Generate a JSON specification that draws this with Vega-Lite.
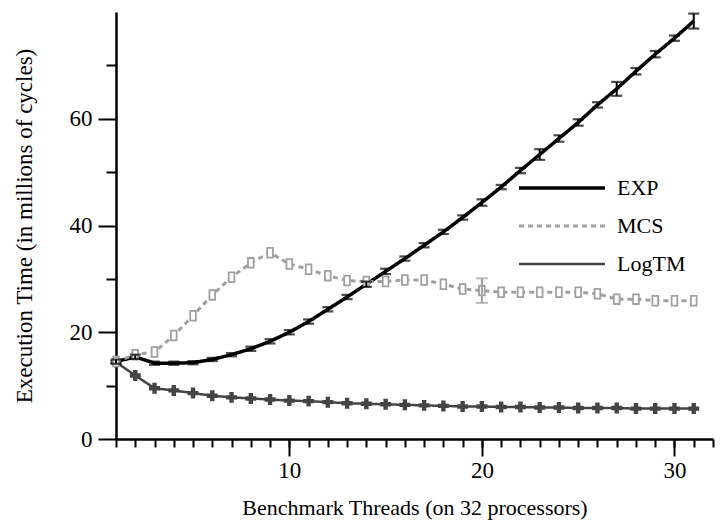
{
  "$schema": "https://vega.github.io/schema/vega-lite/v6.json",
  "width": 597,
  "height": 427,
  "padding": {"left": 13, "top": 12, "right": 5, "bottom": 5},
  "background": "white",
  "config": {
    "view": {"stroke": null},
    "font": "Times New Roman, Liberation Serif, DejaVu Serif, serif",
    "axis": {"grid": false, "labelFont": "Times New Roman, Liberation Serif, DejaVu Serif, serif", "titleFont": "Times New Roman, Liberation Serif, DejaVu Serif, serif", "labelColor": "black", "titleColor": "black", "titleFontWeight": "normal", "tickColor": "black", "domainColor": "black"},
    "legend": {"labelFont": "Times New Roman, Liberation Serif, DejaVu Serif, serif"}
  },
  "data": {"values": [
    {"t":1,"series":"EXP","v":14.5,"err":0.4},{"t":2,"series":"EXP","v":15.4,"err":0.4},{"t":3,"series":"EXP","v":14.2,"err":0.3},{"t":4,"series":"EXP","v":14.2,"err":0.3},{"t":5,"series":"EXP","v":14.3,"err":0.3},{"t":6,"series":"EXP","v":14.9,"err":0.3},{"t":7,"series":"EXP","v":15.8,"err":0.3},{"t":8,"series":"EXP","v":16.9,"err":0.4},{"t":9,"series":"EXP","v":18.3,"err":0.4},{"t":10,"series":"EXP","v":20.0,"err":0.4},{"t":11,"series":"EXP","v":22.0,"err":0.4},{"t":12,"series":"EXP","v":24.3,"err":0.4},{"t":13,"series":"EXP","v":26.6,"err":0.4},{"t":14,"series":"EXP","v":29.0,"err":0.5},{"t":15,"series":"EXP","v":31.4,"err":0.5},{"t":16,"series":"EXP","v":33.8,"err":0.4},{"t":17,"series":"EXP","v":36.3,"err":0.4},{"t":18,"series":"EXP","v":38.8,"err":0.4},{"t":19,"series":"EXP","v":41.5,"err":0.4},{"t":20,"series":"EXP","v":44.3,"err":0.6},{"t":21,"series":"EXP","v":47.2,"err":0.4},{"t":22,"series":"EXP","v":50.3,"err":0.5},{"t":23,"series":"EXP","v":53.3,"err":1.0},{"t":24,"series":"EXP","v":56.3,"err":0.6},{"t":25,"series":"EXP","v":59.3,"err":0.6},{"t":26,"series":"EXP","v":62.6,"err":0.5},{"t":27,"series":"EXP","v":65.6,"err":1.3},{"t":28,"series":"EXP","v":68.9,"err":0.6},{"t":29,"series":"EXP","v":72.1,"err":0.6},{"t":30,"series":"EXP","v":75.1,"err":0.5},{"t":31,"series":"EXP","v":78.3,"err":1.4},
    {"t":1,"series":"MCS","v":14.5},{"t":2,"series":"MCS","v":15.8},{"t":3,"series":"MCS","v":16.3},{"t":4,"series":"MCS","v":19.4},{"t":5,"series":"MCS","v":23.1},{"t":6,"series":"MCS","v":27.0},{"t":7,"series":"MCS","v":30.3},{"t":8,"series":"MCS","v":33.0},{"t":9,"series":"MCS","v":34.9},{"t":10,"series":"MCS","v":32.8},{"t":11,"series":"MCS","v":31.8},{"t":12,"series":"MCS","v":30.6},{"t":13,"series":"MCS","v":29.7},{"t":14,"series":"MCS","v":29.5},{"t":15,"series":"MCS","v":29.5},{"t":16,"series":"MCS","v":29.8},{"t":17,"series":"MCS","v":29.8},{"t":18,"series":"MCS","v":29.0},{"t":19,"series":"MCS","v":28.1},{"t":20,"series":"MCS","v":27.8,"err":2.3},{"t":21,"series":"MCS","v":27.5},{"t":22,"series":"MCS","v":27.5},{"t":23,"series":"MCS","v":27.5},{"t":24,"series":"MCS","v":27.5},{"t":25,"series":"MCS","v":27.5},{"t":26,"series":"MCS","v":27.2},{"t":27,"series":"MCS","v":26.2},{"t":28,"series":"MCS","v":26.2},{"t":29,"series":"MCS","v":25.9},{"t":30,"series":"MCS","v":25.9},{"t":31,"series":"MCS","v":25.9},
    {"t":1,"series":"LogTM","v":14.4},{"t":2,"series":"LogTM","v":11.9},{"t":3,"series":"LogTM","v":9.5},{"t":4,"series":"LogTM","v":9.1},{"t":5,"series":"LogTM","v":8.6},{"t":6,"series":"LogTM","v":8.1},{"t":7,"series":"LogTM","v":7.8},{"t":8,"series":"LogTM","v":7.6},{"t":9,"series":"LogTM","v":7.4},{"t":10,"series":"LogTM","v":7.2},{"t":11,"series":"LogTM","v":7.1},{"t":12,"series":"LogTM","v":6.9},{"t":13,"series":"LogTM","v":6.7},{"t":14,"series":"LogTM","v":6.6},{"t":15,"series":"LogTM","v":6.5},{"t":16,"series":"LogTM","v":6.4},{"t":17,"series":"LogTM","v":6.3},{"t":18,"series":"LogTM","v":6.2},{"t":19,"series":"LogTM","v":6.1},{"t":20,"series":"LogTM","v":6.1},{"t":21,"series":"LogTM","v":6.0},{"t":22,"series":"LogTM","v":6.0},{"t":23,"series":"LogTM","v":5.9},{"t":24,"series":"LogTM","v":5.9},{"t":25,"series":"LogTM","v":5.8},{"t":26,"series":"LogTM","v":5.8},{"t":27,"series":"LogTM","v":5.8},{"t":28,"series":"LogTM","v":5.7},{"t":29,"series":"LogTM","v":5.7},{"t":30,"series":"LogTM","v":5.7},{"t":31,"series":"LogTM","v":5.7}
  ]},
  "resolve": {"axis": {"x": "independent", "y": "independent"}},
  "layer": [
    {
      "transform": [{"filter": "datum.series === 'LogTM'"}],
      "mark": {"type": "point", "shape": "cross", "filled": true, "size": 120, "color": "#444444", "opacity": 1},
      "encoding": {
        "x": {"field": "t", "type": "quantitative", "scale": {"domain": [1, 32], "nice": false, "zero": false},
          "axis": {"orient": "bottom", "values": [1,2,3,4,5,6,7,8,9,10,11,12,13,14,15,16,17,18,19,20,21,22,23,24,25,26,27,28,29,30,31,32], "labels": false, "title": null, "tickSize": 8, "tickWidth": 2, "domain": true, "domainWidth": 2.5}},
        "y": {"field": "v", "type": "quantitative", "scale": {"domain": [0, 80], "nice": false},
          "axis": {"orient": "left", "values": [10, 30, 50, 70], "labels": false, "title": null, "tickSize": 10, "tickWidth": 2, "domain": true, "domainWidth": 2.5}}
      }
    },
    {
      "mark": {"type": "line", "strokeJoin": "round"},
      "encoding": {
        "x": {"field": "t", "type": "quantitative",
          "axis": {"orient": "bottom", "values": [10, 20, 30], "tickSize": 17, "tickWidth": 2, "domain": false, "labelFont": "Times New Roman, Liberation Serif, DejaVu Serif, serif", "labelFontSize": 23, "labelPadding": 3, "title": "Benchmark Threads (on 32 processors)", "titleFont": "Times New Roman, Liberation Serif, DejaVu Serif, serif", "titleFontSize": 22, "titlePadding": 15}},
        "y": {"field": "v", "type": "quantitative",
          "axis": {"orient": "left", "values": [0, 20, 40, 60], "tickSize": 18, "tickWidth": 2, "domain": false, "labelFont": "Times New Roman, Liberation Serif, DejaVu Serif, serif", "labelFontSize": 23, "labelPadding": 6, "title": "Execution Time (in millions of cycles)", "titleFont": "Times New Roman, Liberation Serif, DejaVu Serif, serif", "titleFontSize": 23, "titlePadding": 33}},
        "color": {"field": "series", "type": "nominal", "scale": {"domain": ["EXP", "MCS", "LogTM"], "range": ["#000000", "#a0a0a0", "#444444"]},
          "legend": {"orient": "none", "legendX": 401, "legendY": 164, "title": null, "symbolType": "stroke", "symbolSize": 7400, "clipHeight": 24, "symbolStrokeWidth": 3.5, "labelFont": "Times New Roman, Liberation Serif, DejaVu Serif, serif", "labelFontSize": 22, "labelColor": "black", "labelOffset": 10, "rowPadding": 14}},
        "strokeDash": {"field": "series", "type": "nominal", "scale": {"domain": ["EXP", "MCS", "LogTM"], "range": [[1, 0], [5, 4], [1, 0]]}},
        "strokeWidth": {"field": "series", "type": "nominal", "scale": {"domain": ["EXP", "MCS", "LogTM"], "range": [3.5, 2.5, 3.5]}}
      }
    },
    {
      "transform": [{"filter": "datum.series === 'MCS'"}],
      "mark": {"type": "point", "shape": "M-0.5,-0.85H0.5V0.85H-0.5Z", "filled": true, "fill": "white", "stroke": "#a0a0a0", "strokeWidth": 1.8, "size": 130, "opacity": 1},
      "encoding": {
        "x": {"field": "t", "type": "quantitative", "axis": null},
        "y": {"field": "v", "type": "quantitative", "axis": null}
      }
    },
    {
      "transform": [{"filter": "datum.series === 'MCS' && datum.err > 0"}],
      "mark": {"type": "errorbar", "color": "#a0a0a0", "thickness": 2, "ticks": {"size": 12, "thickness": 2, "color": "#a0a0a0"}},
      "encoding": {
        "x": {"field": "t", "type": "quantitative", "axis": null},
        "y": {"field": "v", "type": "quantitative", "axis": null},
        "yError": {"field": "err"}
      }
    },
    {
      "transform": [{"filter": "datum.series === 'EXP'"}],
      "mark": {"type": "errorbar", "color": "black", "thickness": 2, "ticks": {"size": 11, "thickness": 2.2, "color": "black"}},
      "encoding": {
        "x": {"field": "t", "type": "quantitative", "axis": null},
        "y": {"field": "v", "type": "quantitative", "axis": null},
        "yError": {"field": "err"}
      }
    }
  ]
}
